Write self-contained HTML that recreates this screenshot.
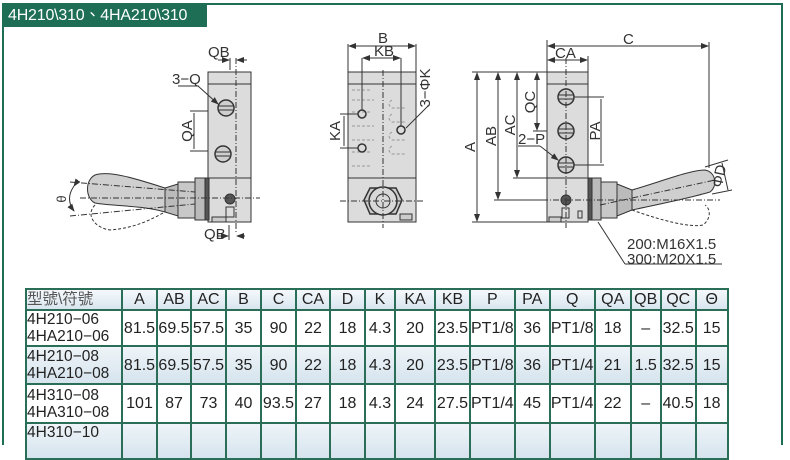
<!DOCTYPE html>
<html><head><meta charset="utf-8">
<style>
html,body{margin:0;padding:0;background:#fff;}
body{width:790px;height:436px;position:relative;overflow:hidden;font-family:"Liberation Sans","Noto Sans CJK TC",sans-serif;}
.frame{position:absolute;left:2px;top:3px;width:777px;height:440px;border:2px solid #1e6e55;border-bottom:none;}
.hdr{position:absolute;left:2px;top:3px;width:205px;height:24px;background:#1e6e55;color:#fff;font-size:16px;line-height:25px;padding-left:6px;box-sizing:border-box;letter-spacing:-0.2px;white-space:nowrap;overflow:hidden;}
table{position:absolute;left:25px;top:288px;border-collapse:collapse;table-layout:fixed;}
td{border:2px solid #2a6e58;padding:0;text-align:center;font-size:16px;color:#222;line-height:17px;white-space:nowrap;overflow:hidden;}
tr.h td{height:19px;background:linear-gradient(#f4f8fb,#d9e6ef);}
tr.w td{background:#fff;}
tr.b td{background:linear-gradient(#eef4f8,#d6e4ee);}
td.m{text-align:left;font-size:15.5px;line-height:17px;}
svg{position:absolute;left:0;top:0;}
</style></head><body>
<div class="frame"></div>
<div class="hdr">4H210\310、4HA210\310</div>
<svg width="790" height="290" viewBox="0 0 790 290" font-family="Liberation Sans, sans-serif" font-size="15" fill="#333">
<defs>
<marker id="ar" markerWidth="8" markerHeight="6" refX="7" refY="3" orient="auto"><path d="M0,0 L8,3 L0,6 z" fill="#333"/></marker>
</defs>
<g stroke="#333" stroke-width="1">
<rect x="208" y="72" width="43" height="150" fill="#dcdcdc"/>
<line x1="208" y1="84" x2="251" y2="84"/>
<line x1="208" y1="178" x2="251" y2="178"/>
<circle cx="226" cy="108" r="8" fill="#cfcfcf" stroke-width="1.5"/>
<line x1="219" y1="106" x2="233" y2="106"/><line x1="219" y1="110" x2="233" y2="110"/>
<circle cx="223" cy="154" r="8" fill="#cfcfcf" stroke-width="1.5"/>
<line x1="216" y1="152" x2="230" y2="152"/><line x1="216" y1="156" x2="230" y2="156"/>
<circle cx="230" cy="199" r="5" fill="#555"/>
<rect x="226" y="207" width="8" height="10" fill="#ddd"/>
<rect x="212" y="217" width="14" height="5" fill="#ccc"/>
<rect x="195" y="178" width="13" height="42" fill="#bbb"/>
<rect x="205" y="178" width="4" height="42" fill="#555"/>
<rect x="178" y="182" width="17" height="36" fill="#c8c8c8"/>
<path d="M178,184 L165,188 L165,212 L178,216 z" fill="#bbb"/>
<path d="M165,188 C140,180 110,170 95,175 C85,180 85,198 95,203 C110,206 140,205 165,212 z" fill="#cfcfcf"/>
<path d="M95,205 C85,215 95,228 110,230 C135,228 150,220 165,212" fill="none" stroke-dasharray="3,2"/>
<line x1="236" y1="58" x2="236" y2="232" stroke-dasharray="6,2,1,2"/>
<line x1="80" y1="198" x2="260" y2="198" stroke-dasharray="6,2,1,2"/>
<line x1="70" y1="182" x2="195" y2="192" stroke-dasharray="6,2,1,2"/>
<line x1="70" y1="216" x2="195" y2="204" stroke-dasharray="6,2,1,2"/>
<path d="M74,186 Q65,199 74,211" fill="none" marker-start="url(#ar)" marker-end="url(#ar)"/>
<line x1="230" y1="58" x2="230" y2="70"/><line x1="218" y1="60" x2="229" y2="60" marker-end="url(#ar)"/><line x1="247" y1="60" x2="237" y2="60" marker-end="url(#ar)"/>
<line x1="229" y1="225" x2="229" y2="240"/><line x1="217" y1="236" x2="228" y2="236" marker-end="url(#ar)"/><line x1="245" y1="236" x2="237" y2="236" marker-end="url(#ar)"/>
<line x1="190" y1="111" x2="208" y2="111"/><line x1="190" y1="151" x2="208" y2="151"/>
<line x1="194" y1="113" x2="194" y2="149"/>
<line x1="178" y1="86" x2="198" y2="86"/><line x1="198" y1="86" x2="218" y2="104" marker-end="url(#ar)"/>
<rect x="348" y="72" width="68" height="150" fill="#dcdcdc"/>
<line x1="348" y1="84" x2="416" y2="84"/>
<line x1="348" y1="178" x2="416" y2="178"/>
<g stroke="#999" stroke-dasharray="3,2" fill="none">
<path d="M352,90 h20 M352,100 h22 M352,112 h20 M352,126 h22 M352,140 h22 M352,152 h20 M352,166 h20"/>
<path d="M392,100 q-6,4 0,8 h14 M392,114 q-6,4 0,8 h14 M392,132 q-6,4 0,8 h14 M392,146 q-6,4 0,8 h14"/>
</g>
<circle cx="362" cy="114" r="4" fill="none" stroke-width="1.5"/>
<circle cx="362" cy="148" r="4" fill="none" stroke-width="1.5"/>
<circle cx="401" cy="130" r="4" fill="none" stroke-width="1.5"/>
<path d="M370,188 L396,188 L402,200 L396,214 L370,214 L364,200 z" fill="#ccc" stroke-width="1.5"/>
<circle cx="383" cy="201" r="14" fill="#d8d8d8" stroke-width="1.5"/>
<circle cx="383" cy="201" r="7" fill="none"/>
<rect x="400" y="214" width="12" height="6" fill="#ccc"/>
<line x1="383" y1="70" x2="383" y2="228" stroke-dasharray="6,2,1,2"/>
<line x1="340" y1="201" x2="424" y2="201" stroke-dasharray="6,2,1,2"/>
<line x1="348" y1="44" x2="348" y2="72"/><line x1="416" y1="44" x2="416" y2="72"/>
<line x1="383" y1="46" x2="349" y2="46" marker-end="url(#ar)"/><line x1="383" y1="46" x2="415" y2="46" marker-end="url(#ar)"/>
<line x1="362" y1="58" x2="362" y2="110"/><line x1="401" y1="58" x2="401" y2="126"/>
<line x1="382" y1="58" x2="363" y2="58" marker-end="url(#ar)"/><line x1="382" y1="58" x2="400" y2="58" marker-end="url(#ar)"/>
<line x1="340" y1="114" x2="358" y2="114"/><line x1="340" y1="148" x2="358" y2="148"/>
<line x1="344" y1="116" x2="344" y2="146"/>
<line x1="428" y1="106" x2="406" y2="128"/>
<rect x="547" y="72" width="41" height="150" fill="#dcdcdc"/>
<line x1="547" y1="84" x2="588" y2="84"/>
<line x1="547" y1="178" x2="588" y2="178"/>
<g fill="#cfcfcf" stroke-width="1.5">
<circle cx="566" cy="97" r="8"/><circle cx="566" cy="131" r="8"/><circle cx="566" cy="165" r="8"/>
</g>
<line x1="559" y1="95" x2="573" y2="95"/><line x1="559" y1="99" x2="573" y2="99"/>
<line x1="559" y1="129" x2="573" y2="129"/><line x1="559" y1="133" x2="573" y2="133"/>
<line x1="559" y1="163" x2="573" y2="163"/><line x1="559" y1="167" x2="573" y2="167"/>
<circle cx="566" cy="200" r="5" fill="#555"/>
<rect x="562" y="208" width="7" height="10" fill="#ddd"/><rect x="578" y="211" width="4" height="7" fill="none"/>
<rect x="549" y="217" width="12" height="5" fill="#ccc"/>
<rect x="588" y="178" width="13" height="42" fill="#bbb"/>
<rect x="588" y="178" width="4" height="42" fill="#555"/>
<rect x="601" y="182" width="16" height="36" fill="#c8c8c8"/>
<path d="M617,184 L632,190 L632,210 L617,216 z" fill="#bbb"/>
<path d="M632,190 C660,182 690,170 705,170 C716,172 718,186 710,192 C690,198 660,204 632,210 z" fill="#cfcfcf"/>
<path d="M632,210 C660,220 690,228 703,225 C712,218 710,208 705,205" fill="none" stroke-dasharray="3,2"/>
<line x1="566" y1="58" x2="566" y2="228" stroke-dasharray="6,2,1,2"/>
<line x1="520" y1="200" x2="720" y2="200" stroke-dasharray="6,2,1,2"/>
<line x1="600" y1="205" x2="715" y2="180" stroke-dasharray="6,2,1,2"/>
<line x1="547" y1="40" x2="547" y2="72"/><line x1="709" y1="42" x2="709" y2="168"/>
<line x1="630" y1="46" x2="548" y2="46" marker-end="url(#ar)"/><line x1="630" y1="46" x2="708" y2="46" marker-end="url(#ar)"/>
<line x1="588" y1="56" x2="588" y2="72"/>
<line x1="567" y1="60" x2="548" y2="60" marker-end="url(#ar)"/><line x1="567" y1="60" x2="587" y2="60" marker-end="url(#ar)"/>
<line x1="472" y1="72" x2="547" y2="72"/><line x1="472" y1="222" x2="547" y2="222"/>
<line x1="477" y1="147" x2="477" y2="73" marker-end="url(#ar)"/><line x1="477" y1="147" x2="477" y2="221" marker-end="url(#ar)"/>
<line x1="494" y1="200" x2="547" y2="200"/>
<line x1="498" y1="136" x2="498" y2="73" marker-end="url(#ar)"/><line x1="498" y1="136" x2="498" y2="199" marker-end="url(#ar)"/>
<line x1="513" y1="178" x2="547" y2="178"/>
<line x1="517" y1="125" x2="517" y2="73" marker-end="url(#ar)"/><line x1="517" y1="125" x2="517" y2="177" marker-end="url(#ar)"/>
<line x1="533" y1="131" x2="547" y2="131"/>
<line x1="537" y1="100" x2="537" y2="73" marker-end="url(#ar)"/><line x1="537" y1="100" x2="537" y2="130" marker-end="url(#ar)"/>
<line x1="574" y1="97" x2="604" y2="97"/><line x1="574" y1="165" x2="604" y2="165"/>
<line x1="601" y1="99" x2="601" y2="163"/>
<line x1="518" y1="146" x2="540" y2="146"/><line x1="540" y1="146" x2="558" y2="160" marker-end="url(#ar)"/>
<line x1="705" y1="167" x2="728" y2="160"/><line x1="712" y1="194" x2="732" y2="190"/>
<line x1="722" y1="163" x2="728" y2="190"/>
<line x1="598" y1="222" x2="625" y2="264"/><line x1="625" y1="264" x2="722" y2="264"/>
</g>
<g stroke="none" fill="#333">
<text x="208" y="57">QB</text>
<text x="172" y="84">3−Q</text>
<text x="192" y="131" transform="rotate(-90 192 131)" text-anchor="middle">QA</text>
<text x="66" y="199" transform="rotate(-90 66 199)" text-anchor="middle" font-size="13">θ</text>
<text x="204" y="239">QB</text>
<text x="378" y="43">B</text>
<text x="374" y="56">KB</text>
<text x="340" y="131" transform="rotate(-90 340 131)" text-anchor="middle">KA</text>
<text x="430" y="88" transform="rotate(-90 430 88)" text-anchor="middle">3−ΦK</text>
<text x="623" y="44">C</text>
<text x="555" y="58">CA</text>
<text x="475" y="147" transform="rotate(-90 475 147)" text-anchor="middle">A</text>
<text x="496" y="136" transform="rotate(-90 496 136)" text-anchor="middle">AB</text>
<text x="515" y="125" transform="rotate(-90 515 125)" text-anchor="middle">AC</text>
<text x="535" y="102" transform="rotate(-90 535 102)" text-anchor="middle">QC</text>
<text x="518" y="144">2−P</text>
<text x="600" y="131" transform="rotate(-90 600 131)" text-anchor="middle">PA</text>
<text x="724" y="177" transform="rotate(-78 724 177)" text-anchor="middle">ΦD</text>
<text x="627" y="249">200:M16X1.5</text>
<text x="627" y="264">300:M20X1.5</text>
</g>
</svg>
<table>
<colgroup>
<col style="width:96px"><col style="width:35px"><col style="width:34px"><col style="width:35px"><col style="width:35px"><col style="width:35px"><col style="width:34px"><col style="width:35px"><col style="width:30px"><col style="width:40px"><col style="width:35px"><col style="width:44px"><col style="width:35px"><col style="width:45px"><col style="width:36px"><col style="width:30px"><col style="width:35px"><col style="width:32px">
</colgroup>
<tr class="h"><td class="m" style="color:#555">型號\符號</td><td>A</td><td>AB</td><td>AC</td><td>B</td><td>C</td><td>CA</td><td>D</td><td>K</td><td>KA</td><td>KB</td><td>P</td><td>PA</td><td>Q</td><td>QA</td><td>QB</td><td>QC</td><td>Θ</td></tr>
<tr class="w" style="height:36px"><td class="m">4H210−06<br>4HA210−06</td><td>81.5</td><td>69.5</td><td>57.5</td><td>35</td><td>90</td><td>22</td><td>18</td><td>4.3</td><td>20</td><td>23.5</td><td>PT1/8</td><td>36</td><td>PT1/8</td><td>18</td><td>–</td><td>32.5</td><td>15</td></tr>
<tr class="b" style="height:38px"><td class="m">4H210−08<br>4HA210−08</td><td>81.5</td><td>69.5</td><td>57.5</td><td>35</td><td>90</td><td>22</td><td>18</td><td>4.3</td><td>20</td><td>23.5</td><td>PT1/8</td><td>36</td><td>PT1/4</td><td>21</td><td>1.5</td><td>32.5</td><td>15</td></tr>
<tr class="w" style="height:39px"><td class="m">4H310−08<br>4HA310−08</td><td>101</td><td>87</td><td>73</td><td>40</td><td>93.5</td><td>27</td><td>18</td><td>4.3</td><td>24</td><td>27.5</td><td>PT1/4</td><td>45</td><td>PT1/4</td><td>22</td><td>–</td><td>40.5</td><td>18</td></tr>
<tr class="b" style="height:36px"><td class="m" style="vertical-align:top">4H310−10</td><td></td><td></td><td></td><td></td><td></td><td></td><td></td><td></td><td></td><td></td><td></td><td></td><td></td><td></td><td></td><td></td><td></td></tr>
</table>
</body></html>
